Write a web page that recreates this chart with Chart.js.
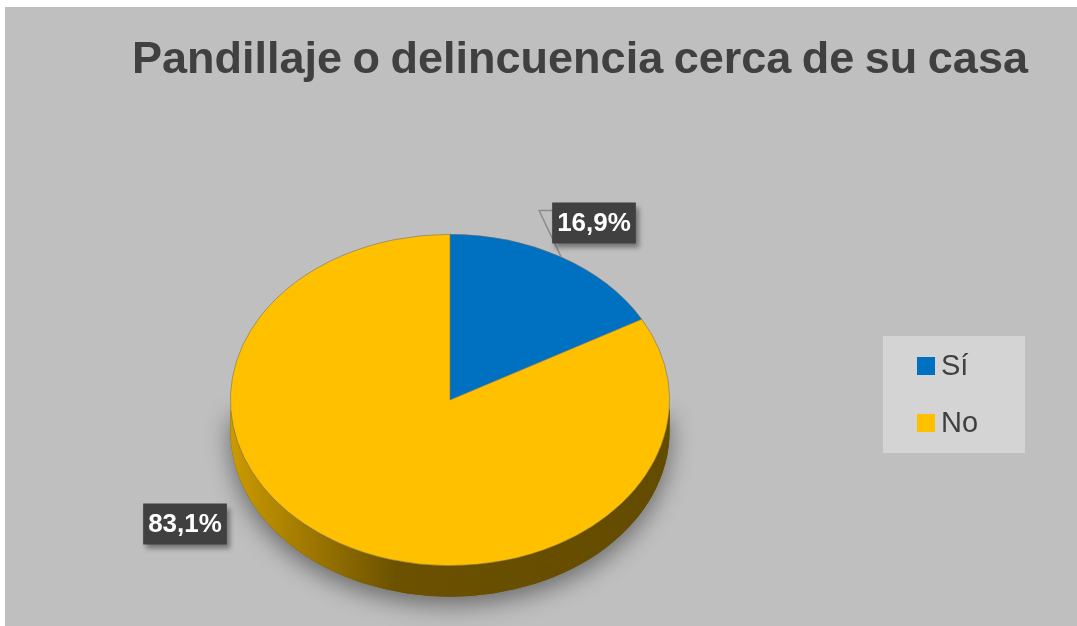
<!DOCTYPE html>
<html lang="es">
<head>
<meta charset="UTF-8">
<title>Pandillaje o delincuencia cerca de su casa</title>
<script src="https://cdn.jsdelivr.net/npm/chart.js"></script>
<style>
    body { margin: 0; background: #fff; }
    .panel {
        position: absolute;
        left: 5px;
        top: 7px;
        width: 1072px;
        height: 619px;
        background: #bfbfbf;
    }
</style>
</head>
<body>
<div class="panel"><canvas id="pie"></canvas></div>
<script>
const chartTitle = 'Pandillaje o delincuencia cerca de su casa';
const categories = ['Sí', 'No'];
const values = [16.9, 83.1];
const colors = ['#0070c0', '#ffc000'];

// layout of the flattened (3d look) pie, canvas px
const tilt = 166 / 220;   // vertical squash of the top face
const faceY = 393;        // centre of the top face ellipse
const depth = 31;         // thickness of the side wall
const FONT = "'Liberation Sans', Arial, sans-serif";

// data label boxes (centre) and whether they get a leader line
const labelBoxes = [
    { x: 589, y: 216, leader: true },
    { x: 180, y: 517, leader: false }
];

function shade(hex, f) {
    const n = parseInt(hex.slice(1), 16);
    const r = Math.round(((n >> 16) & 255) * f);
    const g = Math.round(((n >> 8) & 255) * f);
    const b = Math.round((n & 255) * f);
    return `rgb(${r},${g},${b})`;
}

function fmt(v) {
    return v.toFixed(1).replace('.', ',') + '%';
}

const pie3d = {
    id: 'pie3d',
    beforeDatasetsDraw(chart) {
        const ctx = chart.ctx;
        const arcs = chart.getDatasetMeta(0).data;
        const a0 = arcs[0];
        const x = a0.x, R = a0.outerRadius, ry = R * tilt, y = faceY;

        ctx.save();

        // soft shadow under the front half of the disc
        ctx.save();
        ctx.shadowColor = 'rgba(0,0,0,0.45)';
        ctx.shadowBlur = 24;
        ctx.shadowOffsetY = 8;
        ctx.fillStyle = '#6b5000';
        ctx.beginPath();
        ctx.moveTo(x - R, y + 10);
        ctx.lineTo(x - R, y + depth);
        ctx.ellipse(x, y + depth, R, ry, 0, Math.PI, 0, true);
        ctx.lineTo(x + R, y + 10);
        ctx.closePath();
        ctx.fill();
        ctx.restore();

        // side wall, only the front half shows
        arcs.forEach((arc, i) => {
            const s = Math.max(arc.startAngle, 0);
            const e = Math.min(arc.endAngle, Math.PI);
            if (e <= s) return;
            const c = colors[i];
            const grd = ctx.createLinearGradient(x - R, 0, x + R, 0);
            grd.addColorStop(0, shade(c, 0.8));
            grd.addColorStop(0.38, shade(c, 0.42));
            grd.addColorStop(1, shade(c, 0.39));
            ctx.fillStyle = grd;
            ctx.beginPath();
            ctx.ellipse(x, y, R, ry, 0, s, e);
            ctx.ellipse(x, y + depth, R, ry, 0, e, s, true);
            ctx.closePath();
            ctx.fill();
        });

        // squash the slices Chart.js is about to draw
        ctx.translate(x, y);
        ctx.scale(1, tilt);
        ctx.translate(-x, -a0.y);
    },
    afterDatasetsDraw(chart) {
        chart.ctx.restore();
    },
    afterDraw(chart) {
        const ctx = chart.ctx;
        const arcs = chart.getDatasetMeta(0).data;
        const R = arcs[0].outerRadius, ry = R * tilt;

        ctx.save();
        // title
        ctx.fillStyle = '#404040';
        ctx.font = `bold 45px ${FONT}`;
        ctx.textAlign = 'left';
        ctx.textBaseline = 'alphabetic';
        if ('wordSpacing' in ctx) ctx.wordSpacing = '-2px';
        ctx.fillText(chartTitle, 127, 66);
        if ('wordSpacing' in ctx) ctx.wordSpacing = '0px';

        // data labels
        ctx.font = `bold 26px ${FONT}`;
        arcs.forEach((arc, i) => {
            const b = labelBoxes[i];
            const txt = fmt(values[i]);
            const w = ctx.measureText(txt).width + 10, h = 41;
            const left = b.x - w / 2, top = b.y - h / 2;
            if (b.leader) {
                const mid = (arc.startAngle + arc.endAngle) / 2;
                const px = arc.x + R * Math.cos(mid);
                const py = faceY + ry * Math.sin(mid);
                ctx.strokeStyle = '#8c8c8c';
                ctx.lineWidth = 1.5;
                ctx.beginPath();
                ctx.moveTo(px, py);
                ctx.lineTo(left - 13, top + 8);
                ctx.lineTo(left, top + 8);
                ctx.stroke();
            }
            ctx.save();
            ctx.shadowColor = 'rgba(0,0,0,0.4)';
            ctx.shadowBlur = 5;
            ctx.shadowOffsetX = 3;
            ctx.shadowOffsetY = 4;
            ctx.fillStyle = '#404040';
            ctx.fillRect(left, top, w, h);
            ctx.restore();
            ctx.fillStyle = '#fff';
            ctx.textAlign = 'center';
            ctx.textBaseline = 'middle';
            ctx.fillText(txt, b.x, b.y + 1);
        });

        // legend
        ctx.fillStyle = '#d4d4d4';
        ctx.fillRect(878, 329, 142, 117);
        ctx.font = `29px ${FONT}`;
        ctx.textAlign = 'left';
        ctx.textBaseline = 'alphabetic';
        chart.data.labels.forEach((lab, i) => {
            const top = 350 + i * 57;
            ctx.fillStyle = chart.data.datasets[0].backgroundColor[i];
            ctx.fillRect(912, top, 18, 18);
            ctx.fillStyle = '#404040';
            ctx.fillText(lab, 936, top + 18);
        });
        ctx.restore();
    }
};

new Chart(document.getElementById('pie'), {
    type: 'pie',
    data: {
        labels: categories,
        datasets: [{
            data: values,
            backgroundColor: colors,
            borderColor: 'rgba(110,110,110,0.8)',
            borderWidth: 0.8,
            hoverOffset: 0,
            clip: false
        }]
    },
    options: {
        responsive: true,
        maintainAspectRatio: false,
        animation: false,
        layout: { padding: { left: 225, right: 407, top: 100, bottom: 79 } },
        plugins: {
            legend: { display: false },
            title: { display: false },
            tooltip: { enabled: false }
        }
    },
    plugins: [pie3d]
});
</script>
</body>
</html>
